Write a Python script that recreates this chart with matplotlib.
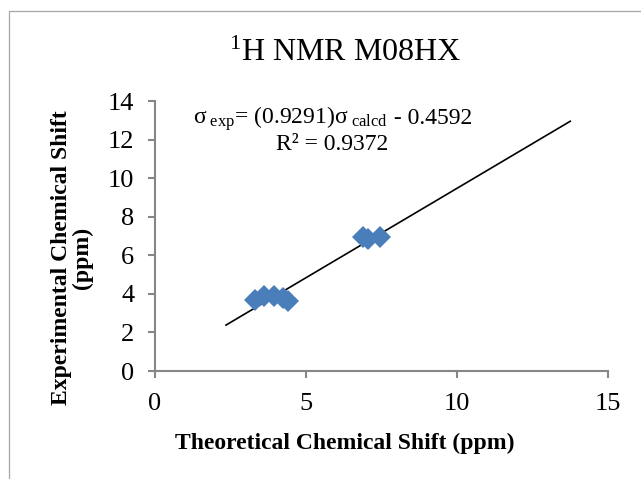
import matplotlib.pyplot as plt
import matplotlib as mpl
from matplotlib.patches import Rectangle

mpl.rcParams['font.family'] = ['Liberation Serif', 'DejaVu Serif']
mpl.rcParams['mathtext.fontset'] = 'custom'
mpl.rcParams['mathtext.rm'] = 'Liberation Serif'
mpl.rcParams['mathtext.it'] = 'Liberation Serif:italic'

# data
theo_shift = [3.3, 3.6, 3.95, 4.25, 4.4, 6.9, 7.05, 7.45]
exp_shift = [3.7, 3.9, 3.9, 3.8, 3.65, 6.95, 6.85, 6.95]

# trendline end points as drawn
trend_x = [2.35, 13.75]
trend_y = [2.38, 12.95]

x_ticks = [0, 5, 10, 15]
y_ticks = [0, 2, 4, 6, 8, 10, 12, 14]

grey = '#868686'

fig = plt.figure(figsize=(6.41, 4.79), dpi=100)

# chart area border (cut off at right and bottom)
fig.patches.append(Rectangle((9 / 641, -0.1), 1.2, 1.1 - 11 / 479,
                             transform=fig.transFigure, fill=False,
                             edgecolor='#a6a6a6', linewidth=0.9))

ax = fig.add_axes([155 / 641, 108 / 479, 453 / 641, 270 / 479])

ax.plot(trend_x, trend_y, color='black', linewidth=1.2, zorder=2)
ax.plot(theo_shift, exp_shift, linestyle='none', marker='D', markersize=11,
        color='#4a7ebb', markeredgewidth=0, zorder=3)

ax.set_xlim(0, 15)
ax.set_ylim(0, 14)
ax.set_xticks(x_ticks)
ax.set_yticks(y_ticks)

for s in ['top', 'right']:
    ax.spines[s].set_visible(False)
for s in ['left', 'bottom']:
    ax.spines[s].set_color(grey)
    ax.spines[s].set_linewidth(1.5)

ax.tick_params(direction='out', length=5, width=1.5, color=grey,
               labelsize=19)
ax.tick_params(axis='x', pad=11)
ax.tick_params(axis='y', pad=10)

# axis titles
fig.text(345 / 641, 1 - 443 / 479, 'Theoretical Chemical Shift (ppm)',
         fontsize=17, fontweight='bold', ha='center', va='center')
fig.text(72 / 641, 1 - 258 / 479, 'Experimental Chemical Shift\n(ppm)',
         fontsize=17, fontweight='bold', ha='center', va='center',
         rotation=90, linespacing=1.0)

fig.text(345 / 641, 1 - 53 / 479, r'$^{1}$H NMR M08HX', fontsize=23,
         ha='center', va='center')

# trendline equation: math part + plain tail, joined on one baseline
eq_base = 1 - 124 / 479
t1 = fig.text(193 / 641, eq_base,
              'σ$_{\\rm\\ exp}$= (0.9291)σ$_{\\rm\\ calcd}$',
              fontsize=17, ha='left', va='baseline')
fig.canvas.draw()
bb = t1.get_window_extent().transformed(fig.transFigure.inverted())
fig.text(bb.x1, eq_base, ' - 0.4592', fontsize=17, ha='left', va='baseline')

fig.text(332 / 641, 1 - 144 / 479, 'R² = 0.9372', fontsize=17,
         ha='center', va='center')

plt.savefig('out.png', dpi=100)
